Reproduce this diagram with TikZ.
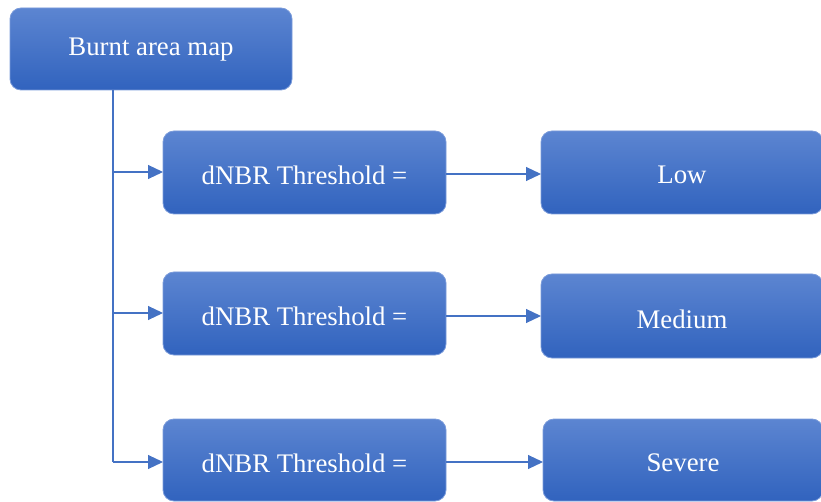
\documentclass[tikz,border=0pt]{standalone}
\usepackage{fontspec}
\setmainfont{Liberation Serif}
\usetikzlibrary{arrows.meta}
\definecolor{topblue}{HTML}{5C85D1}
\definecolor{botblue}{HTML}{3163BE}
\definecolor{edgeblue}{HTML}{7A9BDA}
\definecolor{lineblue}{HTML}{4472C4}
\begin{document}
\begin{tikzpicture}[x=1pt,y=-1pt,
  bluebox/.style={rounded corners=11pt, top color=topblue, bottom color=botblue, draw=edgeblue, line width=0.8pt},
  boxtext/.style={text=white, font=\fontsize{26.8}{30}\selectfont},
  conn/.style={draw=lineblue, line width=1.1pt},
  arr/.style={conn, -{Triangle[length=15pt,width=14pt]}}]
\useasboundingbox (0,0) rectangle (821,502);
\clip (0,0) rectangle (821,502);
% boxes
\draw[bluebox] (10,8) rectangle (292,90);
\node[boxtext] (root) at (151,50) {Burnt area map};
\draw[bluebox] (163,131) rectangle (446,214);
\node[boxtext] (t1) at (304.5,175) {dNBR Threshold =};
\draw[bluebox] (163,272) rectangle (446,355);
\node[boxtext] (t2) at (304.5,316) {dNBR Threshold =};
\draw[bluebox] (163,419) rectangle (446,501);
\node[boxtext] (t3) at (304.5,463) {dNBR Threshold =};
\draw[bluebox] (541,131) rectangle (823,214);
\node[boxtext] (r1) at (682,175) {Low};
\draw[bluebox] (541,274) rectangle (823,358);
\node[boxtext] (r2) at (682,319) {Medium};
\draw[bluebox] (543,419) rectangle (823,501);
\node[boxtext] (r3) at (683,463) {Severe};
% anchors
\coordinate (rootb) at (113,90);
\coordinate (j1) at (113,172);
\coordinate (j2) at (113,313);
\coordinate (j3) at (113,462);
\coordinate (t1l) at (163,172);
\coordinate (t2l) at (163,313);
\coordinate (t3l) at (163,462);
\coordinate (t1r) at (446,174);
\coordinate (t2r) at (446,316);
\coordinate (t3r) at (446,462);
\coordinate (r1l) at (541,174);
\coordinate (r2l) at (541,316);
\coordinate (r3l) at (543,462);
\draw[conn] (rootb) -- (j3);
\draw[arr] (j1) -- (t1l);
\draw[arr] (j2) -- (t2l);
\draw[arr] (j3) -- (t3l);
\draw[arr] (t1r) -- (r1l);
\draw[arr] (t2r) -- (r2l);
\draw[arr] (t3r) -- (r3l);
\end{tikzpicture}
\end{document}
